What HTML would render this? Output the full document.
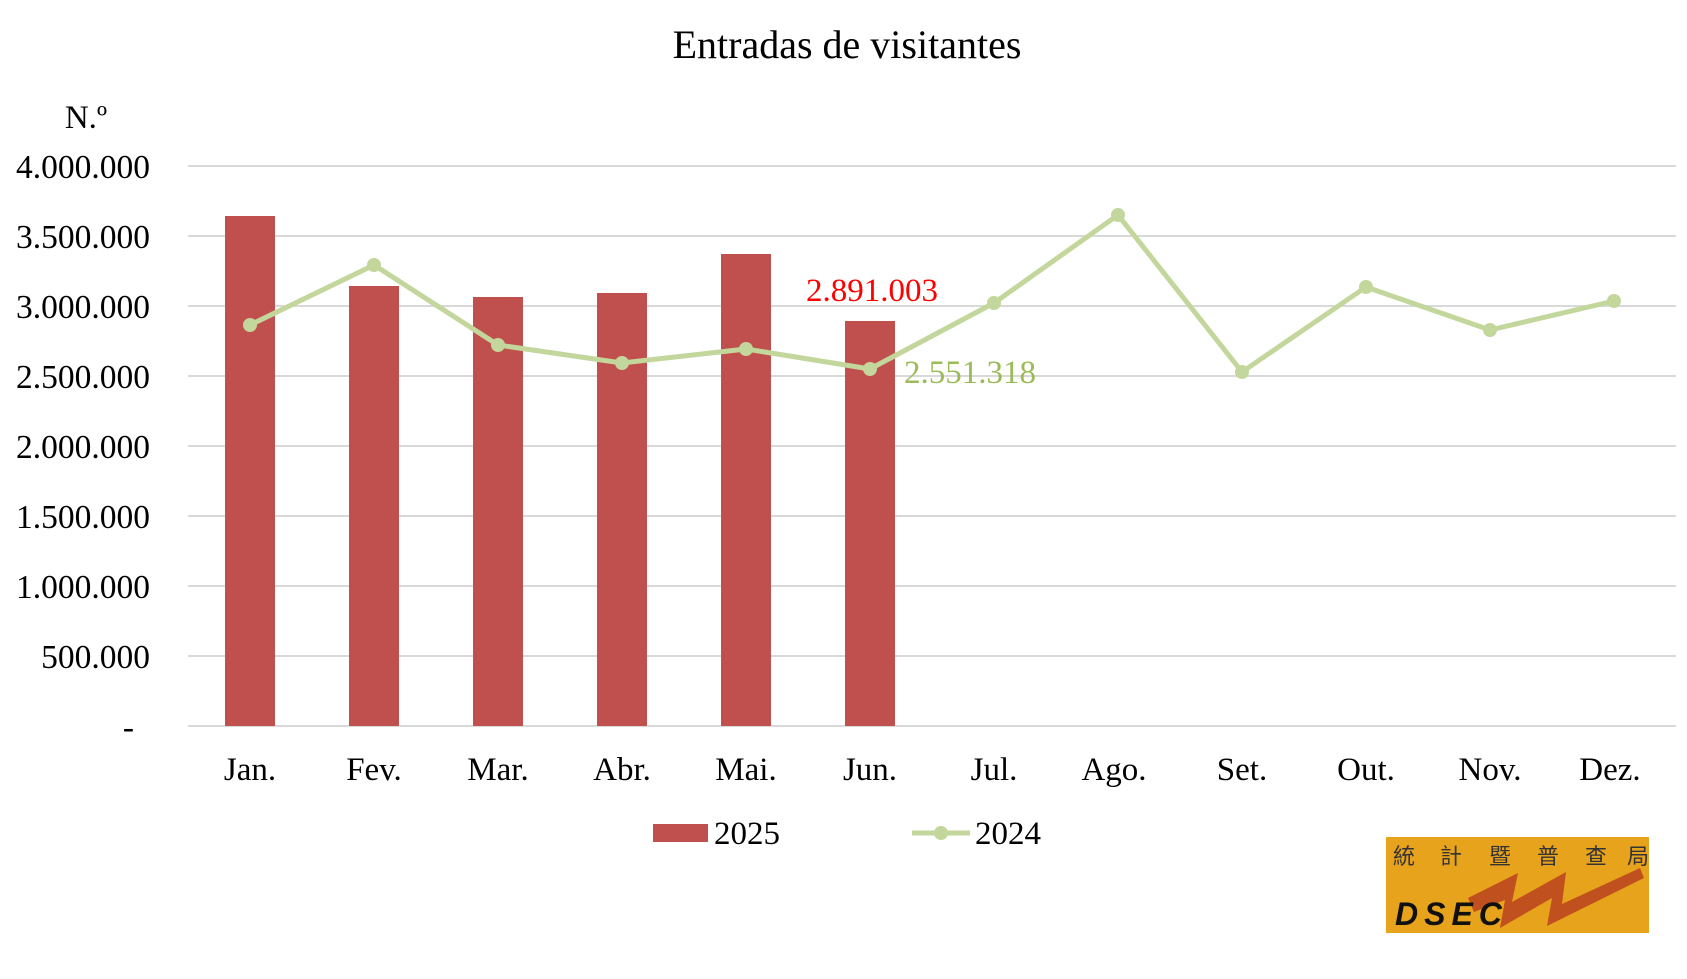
<!DOCTYPE html>
<html><head><style>
body{margin:0;background:#fff;}
svg{display:block;font-family:"Liberation Serif",serif;}
</style></head><body>
<svg width="1687" height="979" viewBox="0 0 1687 979">
<text x="847" y="58" font-size="40" text-anchor="middle">Entradas de visitantes</text>
<text x="86" y="128" font-size="33" text-anchor="middle">N.º</text>
<g stroke="#d9d9d9" stroke-width="2">
<line x1="188" x2="1676" y1="166" y2="166"/><line x1="188" x2="1676" y1="236" y2="236"/>
<line x1="188" x2="1676" y1="306" y2="306"/><line x1="188" x2="1676" y1="376" y2="376"/>
<line x1="188" x2="1676" y1="446" y2="446"/><line x1="188" x2="1676" y1="516" y2="516"/>
<line x1="188" x2="1676" y1="586" y2="586"/><line x1="188" x2="1676" y1="656" y2="656"/>
<line x1="188" x2="1676" y1="726" y2="726"/>
</g>
<g font-size="33.5" text-anchor="end">
<text x="150" y="178">4.000.000</text><text x="150" y="248">3.500.000</text>
<text x="150" y="318">3.000.000</text><text x="150" y="388">2.500.000</text>
<text x="150" y="458">2.000.000</text><text x="150" y="528">1.500.000</text>
<text x="150" y="598">1.000.000</text><text x="150" y="668">500.000</text>
<text x="134" y="738">-</text>
</g>
<g fill="#c0504d">
<rect x="225" y="216" width="50" height="510"/>
<rect x="349" y="286" width="50" height="440"/>
<rect x="473" y="297" width="50" height="429"/>
<rect x="597" y="293" width="50" height="433"/>
<rect x="721" y="254" width="50" height="472"/>
<rect x="845" y="321" width="50" height="405"/>
</g>
<polyline fill="none" stroke="#c3d69b" stroke-width="5" stroke-linejoin="round" points="250,325 374,265 498,345 622,363 746,349 870,369 994,303 1118,215 1242,372 1366,287 1490,330 1614,301"/>
<g fill="#c3d69b">
<circle cx="250" cy="325" r="7"/><circle cx="374" cy="265" r="7"/><circle cx="498" cy="345" r="7"/>
<circle cx="622" cy="363" r="7"/><circle cx="746" cy="349" r="7"/><circle cx="870" cy="369" r="7"/>
<circle cx="994" cy="303" r="7"/><circle cx="1118" cy="215" r="7"/><circle cx="1242" cy="372" r="7"/>
<circle cx="1366" cy="287" r="7"/><circle cx="1490" cy="330" r="7"/><circle cx="1614" cy="301" r="7"/>
</g>
<text x="806" y="301" font-size="33" fill="#ff0000">2.891.003</text>
<text x="904" y="383" font-size="33" fill="#9bbb59">2.551.318</text>
<g font-size="33" text-anchor="middle">
<text x="250" y="780">Jan.</text><text x="374" y="780">Fev.</text><text x="498" y="780">Mar.</text>
<text x="622" y="780">Abr.</text><text x="746" y="780">Mai.</text><text x="870" y="780">Jun.</text>
<text x="994" y="780">Jul.</text><text x="1114" y="780">Ago.</text><text x="1242" y="780">Set.</text>
<text x="1366" y="780">Out.</text><text x="1490" y="780">Nov.</text><text x="1610" y="780">Dez.</text>
</g>
<rect x="653" y="824" width="55" height="18" fill="#c0504d"/>
<text x="714" y="844" font-size="33">2025</text>
<line x1="912" x2="970" y1="833" y2="833" stroke="#c3d69b" stroke-width="5"/>
<circle cx="941" cy="833" r="7" fill="#c3d69b"/>
<text x="975" y="844" font-size="33">2024</text>
<rect x="1386" y="837" width="263" height="96" fill="#e8a31c"/>
<g font-family="'Noto Sans CJK TC',sans-serif" font-size="22" fill="#333">
<text x="1393" y="864">統</text><text x="1440" y="864">計</text><text x="1489" y="864">暨</text>
<text x="1537" y="864">普</text><text x="1585" y="864">查</text><text x="1627" y="864">局</text>
</g>
<polygon points="1468,898 1518,873 1512,902 1566,872 1562,904 1640,868 1644,878 1547,926 1552,898 1500,928 1505,900 1474,912" fill="#c0501e"/>
<text x="1395" y="925" font-family="'Liberation Sans',sans-serif" font-weight="bold" font-style="italic" font-size="32" letter-spacing="6" fill="#111">DSEC</text>
</svg>
</body></html>
